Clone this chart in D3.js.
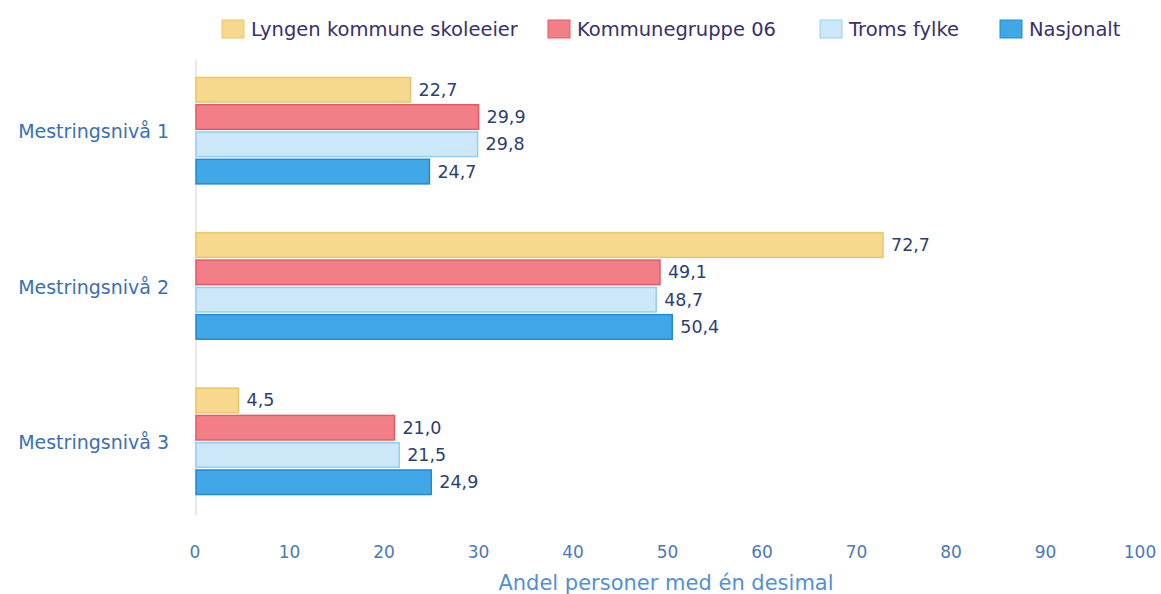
<!DOCTYPE html>
<html>
<head>
<meta charset="UTF-8">
<style>
  body { margin: 0; background: #fff; }
  text { font-family: "DejaVu Sans", sans-serif; }
  .cat { font-size: 19px; fill: #3b6fb3; text-anchor: end; dominant-baseline: middle; }
  .val { font-size: 17.5px; fill: #2d3f70; dominant-baseline: middle; }
  .tick { font-size: 17px; fill: #4a7ab8; text-anchor: middle; }
  .leg { font-size: 19.5px; fill: #3a2f6a; dominant-baseline: middle; }
</style>
</head>
<body>
<script src="https://d3js.org/d3.v7.min.js"></script>
<svg id="svg" width="1161" height="594"></svg>
<script>
  // data
  const categories = ["Mestringsnivå 1", "Mestringsnivå 2", "Mestringsnivå 3"];
  const seriesNames = ["Lyngen kommune skoleeier", "Kommunegruppe 06", "Troms fylke", "Nasjonalt"];
  const lyngen = [22.7, 72.7, 4.5];
  const kommunegruppe = [29.9, 49.1, 21.0];
  const troms = [29.8, 48.7, 21.5];
  const nasjonalt = [24.7, 50.4, 24.9];
  const xTicks = [0, 10, 20, 30, 40, 50, 60, 70, 80, 90, 100];

  const fills = ["#f6d98d", "#f27f88", "#cce8f8", "#41a8e8"];
  const strokes = ["#e9c46a", "#e35a66", "#95cdef", "#2389d2"];
  const allSeries = [lyngen, kommunegruppe, troms, nasjonalt];

  var svg = d3.select("svg");

  var x = d3.scaleLinear().domain([0, 100]).range([195, 1140]);
  var y0 = d3.scaleBand().domain(categories).range([53, 519]).paddingInner(0.28).paddingOuter(0.14);
  var y1 = d3.scaleBand().domain(d3.range(seriesNames.length)).range([0, y0.bandwidth()]).padding(0.1);

  var fmt = function (v) { return d3.format(".1f")(v).replace(".", ","); };

  // axis line
  svg.append("line")
    .attr("x1", x(0) + 1).attr("x2", x(0) + 1)
    .attr("y1", 60).attr("y2", 515)
    .attr("stroke", "#d3d3d3");

  // bars
  categories.forEach(function (c, ci) {
    var g = svg.append("g").attr("transform", "translate(0," + y0(c) + ")");
    allSeries.forEach(function (s, si) {
      g.append("rect")
        .attr("x", x(0) + 1)
        .attr("y", y1(si))
        .attr("width", x(s[ci]) - x(0))
        .attr("height", y1.bandwidth())
        .attr("fill", fills[si])
        .attr("stroke", strokes[si])
        .attr("stroke-width", 1.5);
      g.append("text").attr("class", "val")
        .attr("x", x(s[ci]) + 9)
        .attr("y", y1(si) + y1.bandwidth() / 2 + 1)
        .text(fmt(s[ci]));
    });
    svg.append("text").attr("class", "cat")
      .attr("x", 169)
      .attr("y", y0(c) + y0.bandwidth() / 2 + 2)
      .text(c);
  });

  // x tick labels
  svg.selectAll(".tick").data(xTicks).enter().append("text")
    .attr("class", "tick")
    .attr("x", function (d) { return x(d); })
    .attr("y", 558)
    .text(function (d) { return d; });

  svg.append("text")
    .attr("x", 666).attr("y", 590)
    .attr("text-anchor", "middle")
    .style("font-size", "21px")
    .style("fill", "#5290d3")
    .text("Andel personer med én desimal");

  // legend
  var legX = [222, 548, 820, 1000];
  seriesNames.forEach(function (n, i) {
    svg.append("rect")
      .attr("x", legX[i]).attr("y", 20)
      .attr("width", 22).attr("height", 18)
      .attr("fill", fills[i]).attr("stroke", strokes[i]);
    svg.append("text").attr("class", "leg")
      .attr("x", legX[i] + 29).attr("y", 30)
      .text(n);
  });
</script>
</body>
</html>
